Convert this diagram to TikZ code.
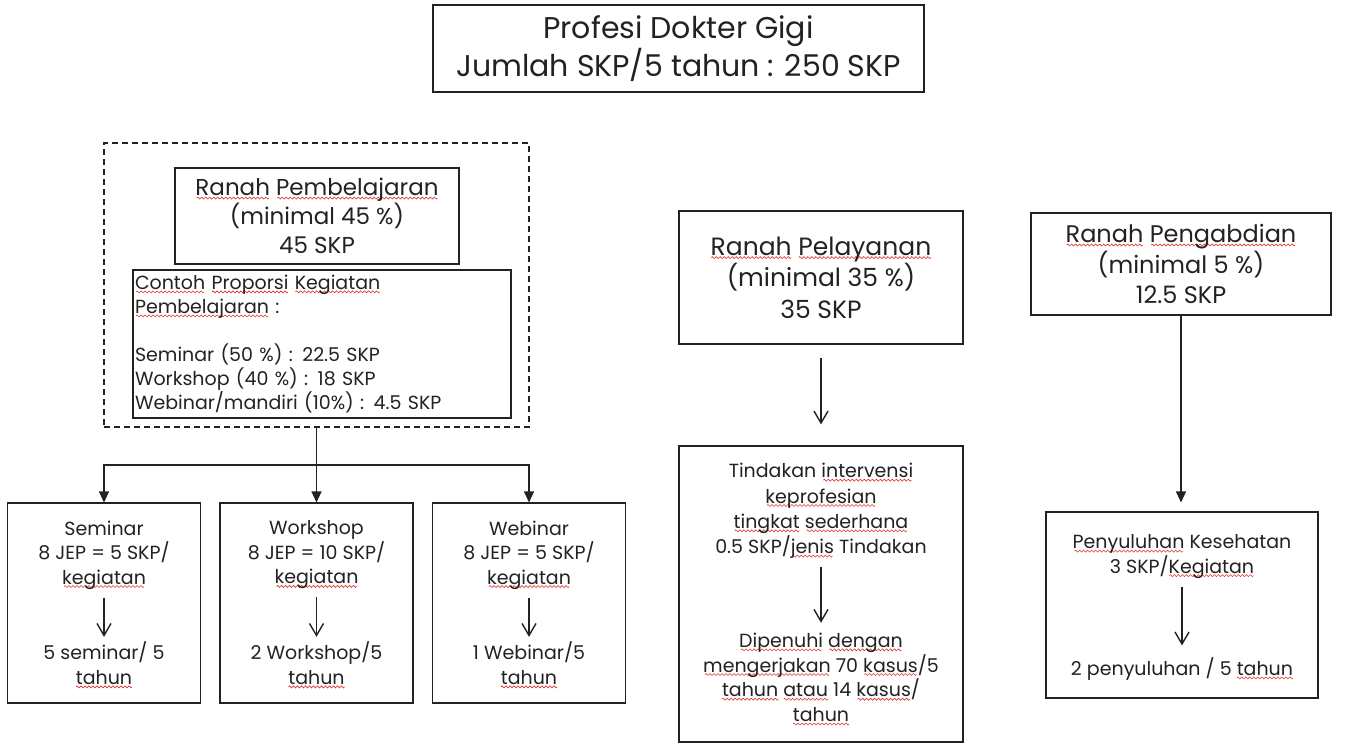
\documentclass[tikz,border=0pt]{standalone}
\usepackage{fontspec}
\setmainfont{Poppins}
\usetikzlibrary{arrows.meta}
\definecolor{ink}{HTML}{222222}
\definecolor{spell}{HTML}{E0342E}
% one period of a red wave, repeated under flagged words
\newsavebox\wavebox
\sbox\wavebox{\tikz[x=1pt,y=1pt]{\useasboundingbox (0,-1.1) rectangle (4,1.1);
  \draw[spell,line width=0.6pt] (0,0) sin (1,1) cos (2,0) sin (3,-1) cos (4,0);}}
\newcommand\sq[1]{\leavevmode\setbox0\hbox{#1}%
  \rlap{\lower3.5pt\hbox to \wd0{\cleaders\copy\wavebox\hfill}}\box0\relax}
\newcommand\fsz[2]{\fontsize{#1pt}{#2pt}\selectfont}
\begin{document}
\begin{tikzpicture}[x=1pt,y=-1pt,
  frame/.style={draw=ink,line width=1.1pt,inner sep=0pt,rectangle},
  txt/.style={align=center,text=ink,inner sep=0pt},
  small/.style={txt,font=\fsz{19}{24.5}},
  vee/.style={draw=ink,line width=1.1pt,-{Straight Barb[length=12pt,width=14pt,line width=1.4pt]}},
  tri/.style={draw=ink,line width=1.2pt,-{Triangle[length=11pt,width=10pt]}}]
\useasboundingbox (0,0) rectangle (1347,744);
\fill[white] (0,0) rectangle (1347,744);

% title
\node[frame,txt,minimum width=491pt,minimum height=87pt,font=\fsz{30}{38}]
  (title) at (678.5,48.5) {Profesi Dokter Gigi\\ Jumlah SKP/5 tahun : 250 SKP};

% learning domain
\node[frame,dash pattern=on 6pt off 4pt,minimum width=425pt,minimum height=284pt] (dash) at (316.5,285) {};
\node[frame,txt,minimum width=284pt,minimum height=96pt,font=\fsz{23}{29}]
  (pemb) at (317,216) {\sq{Ranah} \sq{Pembelajaran}\\ (minimal 45 \%)\\ 45 SKP};
\node[frame,text=ink,align=left,text width=374pt,inner xsep=2pt,inner ysep=0pt,
  minimum height=148pt,font=\fsz{19}{24}] (cont) at (322,344)
  {\sq{Contoh} \sq{Proporsi} \sq{Kegiatan}\\ \sq{Pembelajaran} :\\ ~\\
   Seminar (50 \%) : 22.5 SKP\\ Workshop (40 \%) : 18 SKP\\ Webinar/mandiri (10\%) : 4.5 SKP};

% activity boxes
\node[frame,minimum width=193pt,minimum height=200pt] (sem) at (104,603) {};
\node[frame,minimum width=193pt,minimum height=200pt] (wor) at (316.5,603) {};
\node[frame,minimum width=193pt,minimum height=200pt] (web) at (529,603) {};
\node[small] (semA) at (104,555) {Seminar\\ 8 JEP = 5 SKP/\\ \sq{kegiatan}};
\node[small] (semB) at (104,665) {5 seminar/ 5\\ \sq{tahun}};
\node[small] (worA) at (316.5,555) {Workshop\\ 8 JEP = 10 SKP/\\ \sq{kegiatan}};
\node[small] (worB) at (316.5,665) {2 Workshop/5\\ \sq{tahun}};
\node[small] (webA) at (529,555) {Webinar\\ 8 JEP = 5 SKP/\\ \sq{kegiatan}};
\node[small] (webB) at (529,665) {1 Webinar/5\\ \sq{tahun}};

\coordinate (split) at (316.5,465);
\draw[tri] (dash.south) -- (wor.north);
\draw[tri] (split) -| (sem.north);
\draw[tri] (split) -| (web.north);
\draw[vee,shorten <=8pt,shorten >=5pt] (semA.south) -- (semB.north);
\draw[vee,shorten <=8pt,shorten >=5pt] (worA.south) -- (worB.north);
\draw[vee,shorten <=8pt,shorten >=5pt] (webA.south) -- (webB.north);

% service domain
\node[frame,txt,minimum width=284pt,minimum height=133pt,font=\fsz{25}{31.5}]
  (pel) at (821,277.5) {\sq{Ranah} \sq{Pelayanan}\\ (minimal 35 \%)\\ 35 SKP};
\node[frame,minimum width=284pt,minimum height=296pt] (tind) at (821,594) {};
\node[small,font=\fsz{19}{25.3}] (tindA) at (821,511)
  {Tindakan \sq{intervensi}\\ \sq{keprofesian}\\ \sq{tingkat} \sq{sederhana}\\ 0.5 SKP/\sq{jenis} Tindakan};
\node[small,font=\fsz{19}{24.7}] (tindB) at (821,679)
  {\sq{Dipenuhi} \sq{dengan}\\ \sq{mengerjakan} 70 \sq{kasus}/5\\ \sq{tahun} \sq{atau} 14 \sq{kasus}/\\ \sq{tahun}};
\draw[vee,shorten <=13pt,shorten >=21pt] (pel.south) -- (tind.north);
\draw[vee,shorten <=8pt,shorten >=10pt] (tindA.south) -- (tindB.north);

% community domain
\node[frame,txt,minimum width=300pt,minimum height=102pt,font=\fsz{24}{30.5}]
  (peng) at (1181,264) {\sq{Ranah} \sq{Pengabdian}\\ (minimal 5 \%)\\ 12.5 SKP};
\node[frame,minimum width=272pt,minimum height=186pt] (peny) at (1182,605) {};
\node[small] (penyA) at (1182,556.5) {\sq{Penyuluhan} Kesehatan\\ 3 SKP/\sq{Kegiatan}};
\node[small] (penyB) at (1182,669) {2 penyuluhan / 5 \sq{tahun}};
\draw[tri,shorten >=9pt] (peng.south) -- (peng.south |- peny.north);
\draw[vee,shorten <=8pt,shorten >=12pt] (penyA.south) -- (penyB.north);
\end{tikzpicture}
\end{document}
